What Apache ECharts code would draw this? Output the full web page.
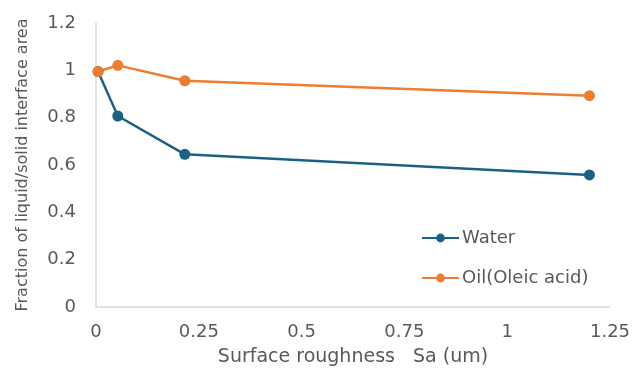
<!DOCTYPE html>
<html><head><meta charset="utf-8">
<script src="https://cdn.jsdelivr.net/npm/echarts@6/dist/echarts.min.js"></script>
<style>html,body{margin:0;padding:0;background:#fff}#c{width:643px;height:384px}</style>
</head><body><div id="c"></div>
<script>
const roughness = [0.005, 0.053, 0.216, 1.2];
const water = [0.995, 0.807, 0.645, 0.558];
const oil = [0.995, 1.021, 0.956, 0.893];
const seriesNames = ['Water', 'Oil(Oleic acid)'];
const xTitle = 'Surface roughness   Sa (um)';
const yTitle = 'Fraction of liquid/solid interface area';
const FONT = 'DejaVu Sans';
const pairs = (ys) => roughness.map((x, i) => [x, ys[i]]);
const chart = echarts.init(document.getElementById('c'));
const mk = (name, data, color) => ({
  name, type: 'line', data, symbol: 'circle', symbolSize: 11,
  lineStyle: {width: 2.5, color}, itemStyle: {color}, animation: false
});
chart.setOption({
  animation: false,
  textStyle: {fontFamily: FONT},
  grid: {left: 96, right: 33, top: 23, bottom: 77},
  legend: {
    orient: 'vertical', left: 421, top: 229, padding: 0, itemGap: 22, itemWidth: 37, itemHeight: 11,
    textStyle: {fontFamily: FONT, fontSize: 18, lineHeight: 18, color: '#595959', padding: [0,0,0,-2]},
    data: seriesNames
  },
  xAxis: {
    type: 'value', min: 0, max: 1.25, interval: 0.25,
    name: xTitle, nameLocation: 'middle', nameGap: 41,
    nameTextStyle: {fontFamily: FONT, fontSize: 19, color: '#595959'},
    axisLine: {show: true, lineStyle: {color: '#d9d9d9', width: 1.5}},
    axisTick: {show: false}, splitLine: {show: false},
    axisLabel: {fontFamily: FONT, fontSize: 18, color: '#595959', margin: 16}
  },
  yAxis: {
    type: 'value', min: 0, max: 1.2, interval: 0.2,
    name: yTitle, nameLocation: 'middle', nameGap: 65,
    nameTextStyle: {fontFamily: FONT, fontSize: 16, color: '#595959'},
    axisLine: {show: true, lineStyle: {color: '#d9d9d9', width: 1.5}},
    axisTick: {show: false}, splitLine: {show: false},
    axisLabel: {fontFamily: FONT, fontSize: 18, color: '#595959', margin: 20}
  },
  series: [mk(seriesNames[0], pairs(water), '#1b6184'), mk(seriesNames[1], pairs(oil), '#ed7d31')]
});
</script></body></html>
